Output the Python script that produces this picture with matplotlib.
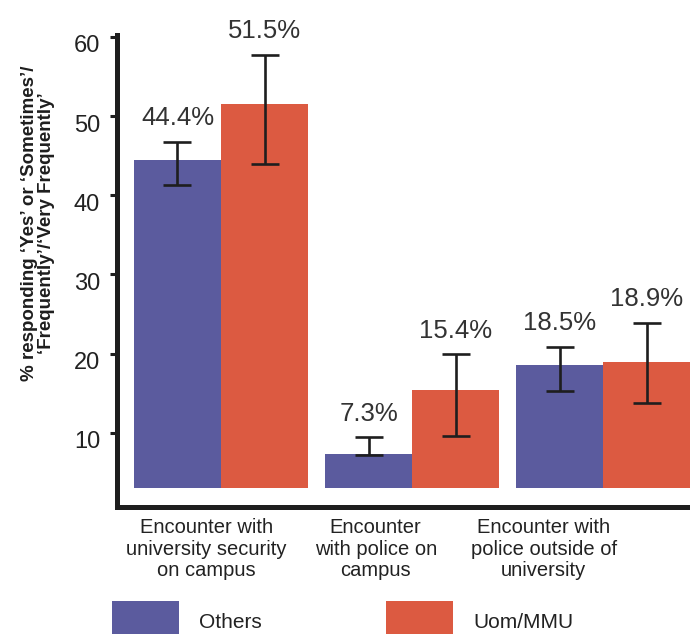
import matplotlib
matplotlib.use("Agg")
import matplotlib.pyplot as plt
import matplotlib.transforms as mtransforms
import numpy as np
from matplotlib.patches import Rectangle

# Survey responses: % answering 'Yes'/'Sometimes'/'Frequently'/'Very Frequently'
categories = [
    "Encounter with\nuniversity security\non campus",
    "Encounter\nwith police on\ncampus",
    "Encounter with\npolice outside of\nuniversity",
]
others_pct = [44.4, 7.3, 18.5]
uom_pct = [51.5, 15.4, 18.9]

# confidence interval bounds for each bar
others_low = [41.3, 7.2, 15.3]
others_high = [46.7, 9.4, 20.8]
uom_low = [44.0, 9.6, 13.8]
uom_high = [57.7, 19.9, 23.9]

series_names = ["Others", "Uom/MMU"]
y_ticks = [10, 20, 30, 40, 50, 60]

BLUE = "#5b5b9e"
RED = "#dc5a41"
INK = "#1e1e1e"

plt.rcParams["font.family"] = ["Liberation Sans", "DejaVu Sans"]

W, H = 690, 634
fig = plt.figure(figsize=(W / 100, H / 100), dpi=100)
ax = fig.add_axes([116.5 / W, 1 - 506.5 / H, 573.5 / W, 471.5 / H])

x = np.arange(len(categories))
width = 87 / 191
base = 3.0

for offset, vals, lo, hi, color in [
    (-width / 2, others_pct, others_low, others_high, BLUE),
    (width / 2, uom_pct, uom_low, uom_high, RED),
]:
    vals = np.array(vals)
    ax.bar(x + offset, vals - base, width, bottom=base, color=color, linewidth=0)
    yerr = [vals - np.array(lo), np.array(hi) - vals]
    ax.errorbar(x + offset, vals, yerr=yerr, fmt="none", ecolor=INK,
                elinewidth=1.9, capsize=10, capthick=1.9)
    for xi, v, top in zip(x + offset, vals, hi):
        ax.annotate(f"{v}%", (xi, top), xytext=(0, 8.5), textcoords="offset points",
                    ha="center", va="bottom", fontsize=18.5, color="#333333")

ax.set_xlim(-0.547, 2.455)
ax.set_ylim(0.68, 60.25)

for side in ["top", "right"]:
    ax.spines[side].set_visible(False)
for side in ["left", "bottom"]:
    ax.spines[side].set_linewidth(3.6)
    ax.spines[side].set_color(INK)
    ax.spines[side].set_capstyle("projecting")

ax.set_yticks(y_ticks)
ax.tick_params(axis="y", length=4.7, width=2.2, color=INK, pad=7,
               labelsize=17, labelcolor="#222222")
shift = mtransforms.ScaledTranslation(0, -5 / 72, fig.dpi_scale_trans)
for lbl in ax.get_yticklabels():
    lbl.set_transform(lbl.get_transform() + shift)

# category labels sit a little left of each group
ax.set_xticks([-0.075, 0.81, 1.69], categories)
ax.tick_params(axis="x", length=0, pad=8.5, labelsize=14.5, labelcolor="#222222")
for lbl in ax.get_xticklabels():
    lbl.set_linespacing(1.17)

ax.set_ylabel("% responding \u2018Yes\u2019 or \u2018Sometimes\u2019/\n"
              "\u2018Frequently\u2019/\u2018Very Frequently\u2019",
              fontsize=13.5, fontweight="bold", linespacing=1.0, color=INK)
ax.yaxis.set_label_coords(-0.107, 0.60)

# legend swatches along the bottom edge
for sx, name, color in [(112, series_names[0], BLUE), (386, series_names[1], RED)]:
    fig.add_artist(Rectangle((sx / W, -0.02), 67 / W, 1 - 601 / H + 0.02,
                             transform=fig.transFigure, color=color, lw=0))
    fig.text((sx + 87) / W, 1 - 622 / H, name, ha="left", va="center",
             fontsize=15, color="#222222")

fig.savefig("out.png", dpi=100)
